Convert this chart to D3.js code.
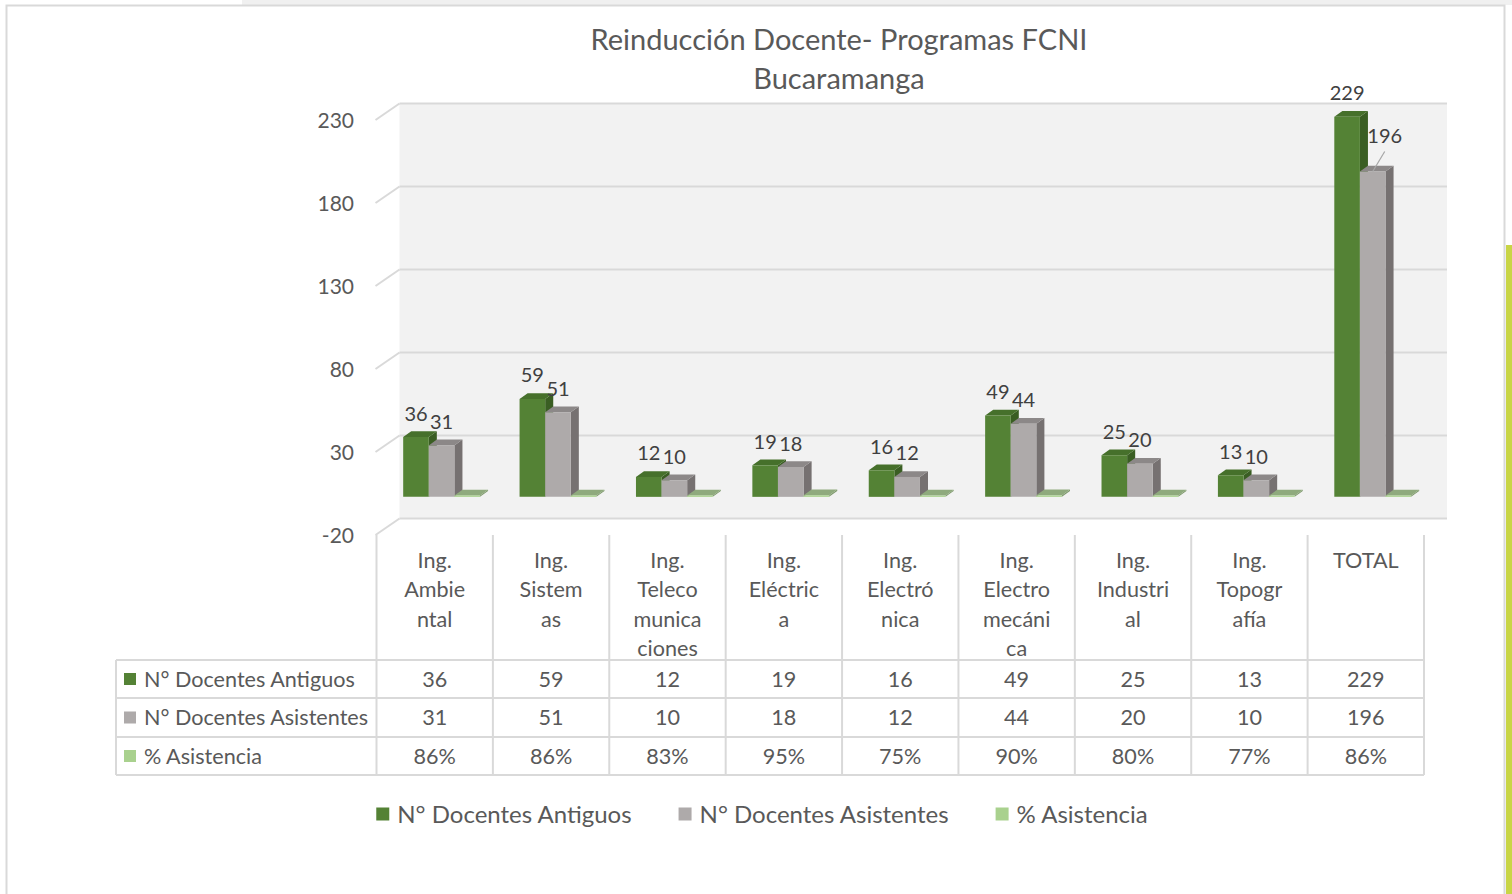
<!DOCTYPE html>
<html>
<head>
<meta charset="utf-8">
<script src="https://cdn.jsdelivr.net/npm/d3@7"></script>
<style>
  body { margin: 0; background: #fff; }
  svg { display: block; font-family: Lato, "Open Sans", sans-serif; }
</style>
</head>
<body>
<svg id="chart" width="1512" height="894"></svg>
<script>
// data
const categories = ["Ing. Ambiental", "Ing. Sistemas", "Ing. Telecomunicaciones", "Ing. Eléctrica",
  "Ing. Electrónica", "Ing. Electromecánica", "Ing. Industrial", "Ing. Topografía", "TOTAL"];
const categoryLines = [
  ["Ing.", "Ambie", "ntal"], ["Ing.", "Sistem", "as"], ["Ing.", "Teleco", "munica", "ciones"],
  ["Ing.", "Eléctric", "a"], ["Ing.", "Electró", "nica"], ["Ing.", "Electro", "mecáni", "ca"],
  ["Ing.", "Industri", "al"], ["Ing.", "Topogr", "afía"], ["TOTAL"]];
const docentesAntiguos = [36, 59, 12, 19, 16, 49, 25, 13, 229];
const docentesAsistentes = [31, 51, 10, 18, 12, 44, 20, 10, 196];
const asistencia = [0.86, 0.86, 0.83, 0.95, 0.75, 0.90, 0.80, 0.77, 0.86];
const seriesNames = ["N° Docentes Antiguos", "N° Docentes Asistentes", "% Asistencia"];
const yTicks = [-20, 30, 80, 130, 180, 230];

const series = [docentesAntiguos, docentesAsistentes, asistencia];
const colors = [
  { front: "#548235", top: "#46702b", side: "#3a5e23", key: "#548235" },
  { front: "#aeaaaa", top: "#8c8888", side: "#767171", key: "#aeaaaa" },
  { front: "#a9d18e", top: "#8faa7d", side: "#7f9a6d", key: "#a9d18e" }
];
const tableFmt = [d3.format("d"), d3.format("d"), d3.format(".0%")];

const svg = d3.select("#chart");
const textColor = "#595959";
const lineColor = "#d9d9d9";
const tdy = 2.5; // Lato sits a bit high with middle baseline

// page decoration
svg.append("rect").attr("x", 242).attr("y", 0).attr("width", 1270).attr("height", 5).attr("fill", "#f0f0f0");
svg.append("rect").attr("x", 1506).attr("y", 245).attr("width", 6).attr("height", 649).attr("fill", "#c9d546");
svg.append("rect").attr("x", 6.5).attr("y", 5.5).attr("width", 1498).attr("height", 900)
  .attr("fill", "#fff").attr("stroke", lineColor).attr("stroke-width", 2);

// title
svg.append("text").attr("x", 839).attr("y", 40 + tdy).attr("text-anchor", "middle")
  .attr("dominant-baseline", "middle").attr("font-size", 29).attr("fill", textColor)
  .text("Reinducción Docente- Programas FCNI");
svg.append("text").attr("x", 839).attr("y", 79 + tdy).attr("text-anchor", "middle")
  .attr("dominant-baseline", "middle").attr("font-size", 29).attr("fill", textColor)
  .text("Bucaramanga");

// 3d projection: front plane + depth
const DX = 23, DY = -16.5;
const z0 = 0.3, z1 = 0.65;
const x = d3.scaleBand().domain(categories).range([376.5, 1424]).padding(0);
const bw = x.bandwidth();
const xs = d3.scaleBand().domain(seriesNames).range([0.17 * bw, 0.83 * bw]);
const y = d3.scaleLinear().domain([-20, 230]).range([535, 120]);
const P = (px, py, z) => [px + z * DX, py + z * DY];
const xL = x.range()[0], xR = x.range()[1];

// back wall
const wall = svg.append("g");
wall.append("polygon")
  .attr("points", [P(xL, y(-20), 1), P(xR, y(-20), 1), P(xR, y(230), 1), P(xL, y(230), 1)].join(" "))
  .attr("fill", "#f2f2f2");
yTicks.forEach(t => {
  wall.append("line")
    .attr("x1", P(xL, y(t), 1)[0]).attr("y1", P(xL, y(t), 1)[1])
    .attr("x2", P(xR, y(t), 1)[0]).attr("y2", P(xR, y(t), 1)[1])
    .attr("stroke", lineColor).attr("stroke-width", 2);
  wall.append("line")
    .attr("x1", xL - 1).attr("y1", y(t))
    .attr("x2", P(xL, y(t), 1)[0]).attr("y2", P(xL, y(t), 1)[1])
    .attr("stroke", lineColor).attr("stroke-width", 2);
  wall.append("text").attr("x", 354).attr("y", y(t) + tdy).attr("text-anchor", "end")
    .attr("dominant-baseline", "middle").attr("font-size", 21).attr("fill", textColor)
    .text(t);
});

// bars
const bars = svg.append("g");
categories.forEach((c, i) => {
  series.forEach((s, k) => {
    const x0 = x(c) + xs(seriesNames[k]), x1 = x0 + xs.bandwidth();
    const yv = y(s[i]), yb = y(0);
    const col = colors[k];
    bars.append("polygon")
      .attr("points", [P(x1, yv, z0), P(x1, yb, z0), P(x1, yb, z1), P(x1, yv, z1)].join(" "))
      .attr("fill", col.side);
    bars.append("polygon")
      .attr("points", [P(x0, yv, z0), P(x1, yv, z0), P(x1, yv, z1), P(x0, yv, z1)].join(" "))
      .attr("fill", col.top);
    bars.append("polygon")
      .attr("points", [P(x0, yv, z0), P(x1, yv, z0), P(x1, yb, z0), P(x0, yb, z0)].join(" "))
      .attr("fill", col.front);
  });
});

// data labels for the two count series
const labels = svg.append("g").attr("font-size", 20).attr("fill", "#404040");
categories.forEach((c, i) => {
  [0, 1].forEach(k => {
    const x0 = x(c) + xs(seriesNames[k]);
    const cx = P(x0 + xs.bandwidth() / 2, y(series[k][i]), z0);
    let lx = cx[0], ly = cx[1] - 24;
    if (k === 1) {
      const greenTop = P(0, y(series[0][i]), z1)[1];
      if (ly + 10 > greenTop + 20) {
        lx += 12; ly -= 12;
        labels.append("line").attr("x1", cx[0]).attr("y1", cx[1])
          .attr("x2", lx).attr("y2", ly + 16).attr("stroke", "#a6a6a6").attr("stroke-width", 1.2);
      }
    }
    labels.append("text").attr("x", lx).attr("y", ly + tdy).attr("text-anchor", "middle")
      .attr("dominant-baseline", "middle").text(series[k][i]);
  });
});

// data table
const table = svg.append("g").attr("font-size", 21.6).attr("fill", textColor);
const rowY = [660, 698, 737, 775];
const tableLeft = 116;
categories.forEach((c, i) => {
  table.append("line").attr("x1", x(c)).attr("x2", x(c)).attr("y1", 535).attr("y2", 775)
    .attr("stroke", lineColor).attr("stroke-width", 2);
  categoryLines[i].forEach((ln, j) => {
    table.append("text").attr("x", x(c) + bw / 2).attr("y", 560 + j * 29.5 + tdy)
      .attr("text-anchor", "middle").attr("dominant-baseline", "middle").text(ln);
  });
  series.forEach((s, k) => {
    table.append("text").attr("x", x(c) + bw / 2).attr("y", (rowY[k] + rowY[k + 1]) / 2 + tdy)
      .attr("text-anchor", "middle").attr("dominant-baseline", "middle").text(tableFmt[k](s[i]));
  });
});
table.append("line").attr("x1", xR).attr("x2", xR).attr("y1", 535).attr("y2", 775)
  .attr("stroke", lineColor).attr("stroke-width", 2);
table.append("line").attr("x1", tableLeft).attr("x2", tableLeft).attr("y1", 660).attr("y2", 775)
  .attr("stroke", lineColor).attr("stroke-width", 2);
rowY.forEach(ry => {
  table.append("line").attr("x1", tableLeft).attr("x2", xR).attr("y1", ry).attr("y2", ry)
    .attr("stroke", lineColor).attr("stroke-width", 2);
});
seriesNames.forEach((n, k) => {
  const cy = (rowY[k] + rowY[k + 1]) / 2;
  table.append("rect").attr("x", 124).attr("y", cy - 6).attr("width", 12).attr("height", 12)
    .attr("fill", colors[k].key);
  table.append("text").attr("x", 144).attr("y", cy + tdy).attr("dominant-baseline", "middle").text(n);
});

// legend
const legend = svg.append("g").attr("font-size", 24).attr("fill", textColor);
const items = seriesNames.map((n, k) => {
  const g = legend.append("g");
  g.append("rect").attr("x", 0).attr("y", -6.5).attr("width", 13).attr("height", 13).attr("fill", colors[k].key);
  const t = g.append("text").attr("x", 21).attr("y", tdy).attr("dominant-baseline", "middle").text(n);
  return { g, w: 21 + t.node().getComputedTextLength() };
});
const gap = 47;
const total = d3.sum(items, d => d.w) + gap * (items.length - 1);
let lx = 762 - total / 2;
items.forEach(it => {
  it.g.attr("transform", `translate(${lx},814)`);
  lx += it.w + gap;
});
</script>
</body>
</html>
